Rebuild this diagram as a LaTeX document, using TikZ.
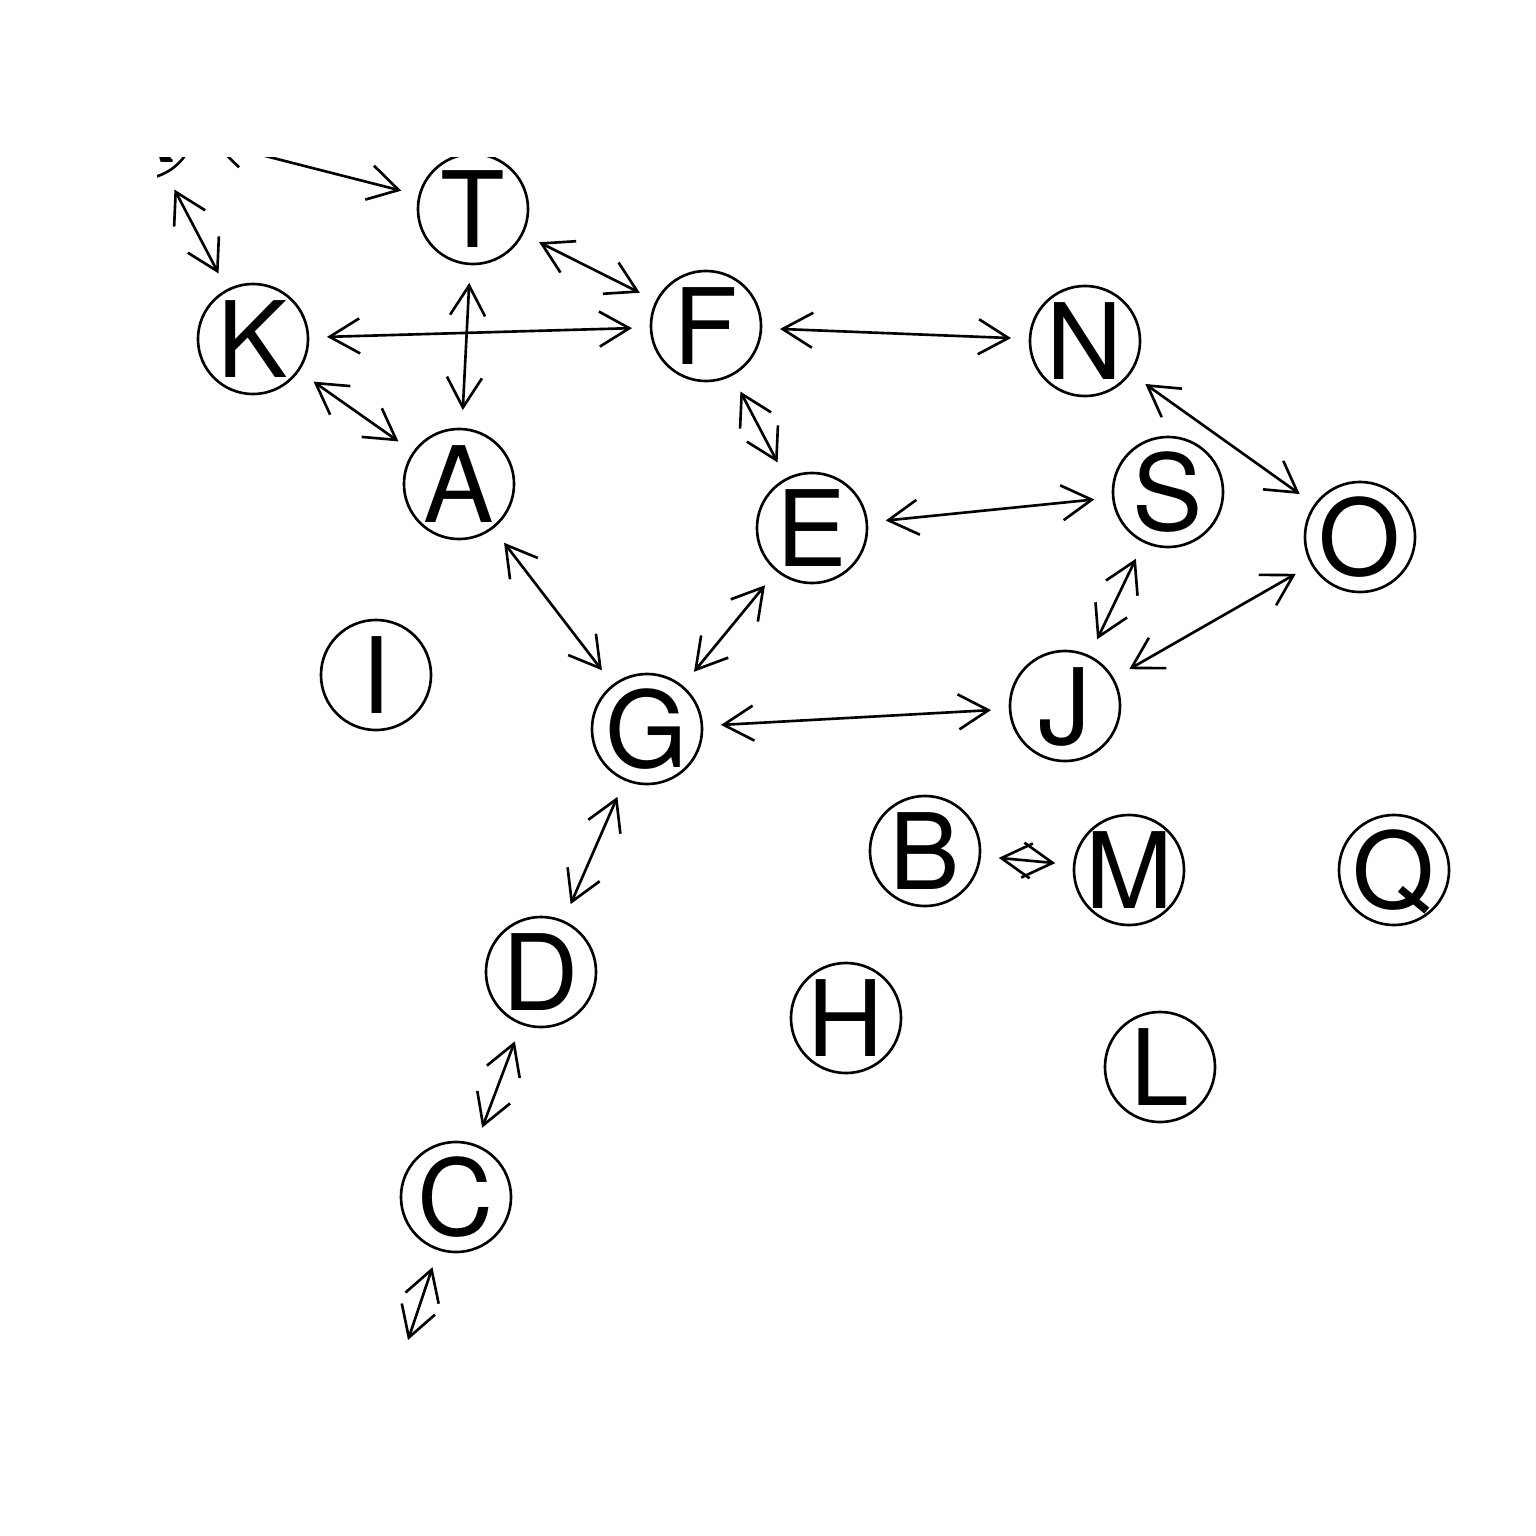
\documentclass[tikz,border=0pt]{standalone}
\usepackage{fontspec}
\newfontfamily\vfont{TeX Gyre Heros}
\usepackage{tikz}
\usetikzlibrary{arrows.meta}

\begin{document}
\begin{tikzpicture}[x=0.01cm, y=-0.01cm,
  vtx/.style={circle, draw, line width=0.75pt, minimum size=1.1cm, inner sep=0pt, outer sep=0.19cm},
  every label/.style={font=\vfont\fontsize{30}{30}\selectfont, text height=0.76cm, text depth=0pt, inner sep=0pt},
  edge/.style={<->, line width=0.75pt},
  >={Straight Barb[length=0.3cm, width=0.35cm]}]
\useasboundingbox (0,0) rectangle (1536,1536);
\clip (157,157) rectangle (1536,1536);

% Vertices
\node[vtx, label=center:R] (r) at (140,124) {};
\node[vtx, label=center:T] (t) at (473,209) {};
\node[vtx, label=center:K] (k) at (253,339) {};
\node[vtx, label=center:F] (f) at (706,326) {};
\node[vtx, label=center:N] (n) at (1085,341) {};
\node[vtx, label=center:A] (a) at (459,484) {};
\node[vtx, label=center:E] (e) at (812,528) {};
\node[vtx, label=center:S] (s) at (1168,492) {};
\node[vtx, label=center:O] (o) at (1360,537) {};
\node[vtx, label=center:I] (i) at (376,675) {};
\node[vtx, label=center:G] (g) at (647,729) {};
\node[vtx, label=center:J] (j) at (1065,706) {};
\node[vtx, label=center:B] (b) at (925,851) {};
\node[vtx, label=center:M] (m) at (1129,870) {};
\node[vtx, label=center:Q] (q) at (1394,870) {};
\node[vtx, label=center:D] (d) at (541,972) {};
\node[vtx, label=center:H] (h) at (846,1018) {};
\node[vtx, label=center:L] (l) at (1160,1067) {};
\node[vtx, label=center:C] (c) at (456,1197) {};
\coordinate (p) at (408,1340);

% Edges
\draw[edge] (r) -- (t);
\draw[edge] (r) -- (k);
\draw[edge] (t) -- (f);
\draw[edge] (t) -- (a);
\draw[edge] (k) -- (f);
\draw[edge] (k) -- (a);
\draw[edge] (f) -- (n);
\draw[edge] (f) -- (e);
\draw[edge] (n) -- (o);
\draw[edge] (e) -- (s);
\draw[edge] (a) -- (g);
\draw[edge] (e) -- (g);
\draw[edge] (s) -- (j);
\draw[edge] (o) -- (j);
\draw[edge] (g) -- (j);
\draw[edge] (g) -- (d);
\draw[edge] (b) -- (m);
\draw[edge] (d) -- (c);
\draw[edge] (c) -- (p);
\end{tikzpicture}
\end{document}
